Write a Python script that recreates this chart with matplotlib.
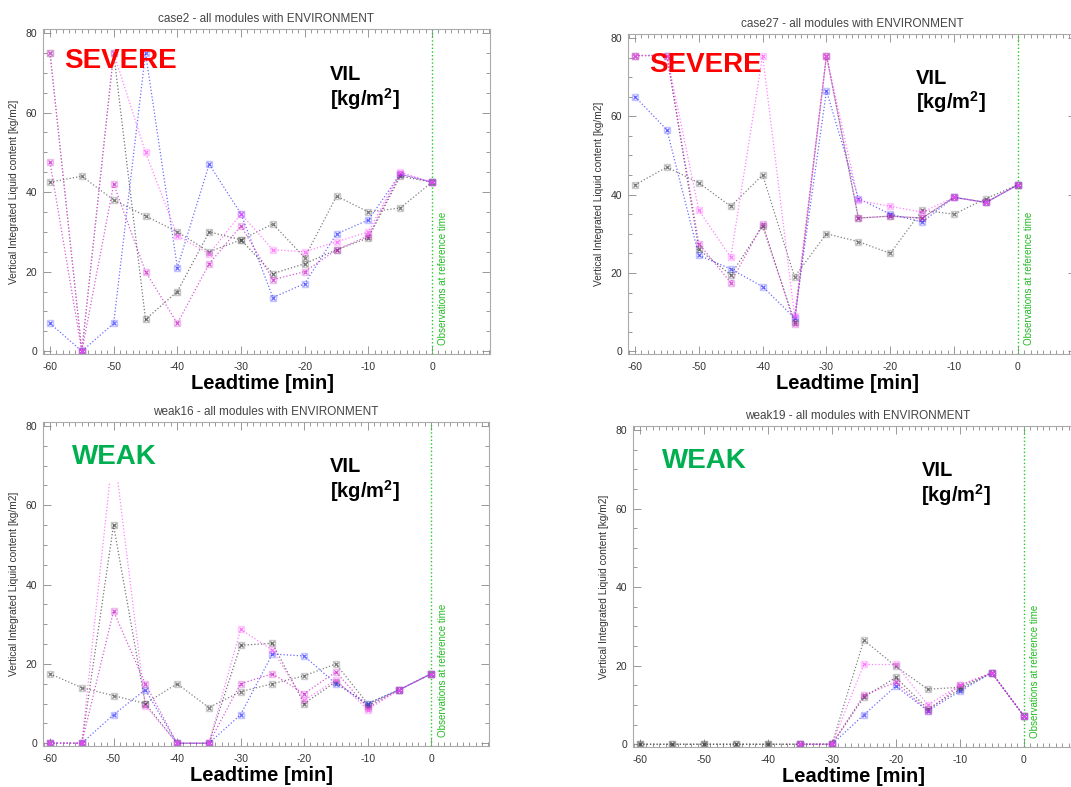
import matplotlib
matplotlib.use("Agg")
import matplotlib.pyplot as plt
import numpy as np
from matplotlib.ticker import MultipleLocator

plt.rcParams['font.family'] = ['Liberation Sans', 'DejaVu Sans']
plt.rcParams['axes.unicode_minus'] = False
plt.rcParams['mathtext.fontset'] = 'custom'
plt.rcParams['mathtext.rm'] = 'Liberation Sans'
plt.rcParams['mathtext.bf'] = 'Liberation Sans:bold'

nan = np.nan

# Data: leadtime in minutes, VIL values per module
leadtime = [-60, -55, -50, -45, -40, -35, -30, -25, -20, -15, -10, -5, 0]

case2_grayA = [42.5, 44, 38, 34, 30, 25, 28, 32, 23.5, 39, 35, 36, 42.5]
case2_grayB = [75, 0, 75, 8, 15, 30, 28, 19.5, 22, 25.5, 28.5, 44, 42.5]
case2_blue = [7, 0, 7, 75, 21, 47, 34.5, 13.5, 17, 29.5, 33, 44.5, 42.5]
case2_magenta = [47.5, 0, 42, 20, 7, 22, 31.5, 18, 20, 25.5, 29, 44.5, 42.5]
case2_pink = [75, 0, 75, 50, 29, 24.5, 34.5, 25.5, 25, 27.5, 30, 45, 42.5]

case27_grayA = [42.5, 47, 43, 37, 45, 19, 30, 28, 25, 36, 35, 39, 42.5]
case27_grayB = [75.5, 75.5, 26, 19.5, 32, 7.5, 75.5, 34, 34.5, 34, 39.3, 38, 42.5]
case27_blue = [65, 56.5, 24.5, 21, 16.5, 8.5, 66.5, 39, 35, 33, 39.3, 38, 42.5]
case27_magenta = [75.5, 75.5, 27.5, 17.5, 32.5, 7, 75.5, 34, 34.5, 34, 39.3, 38, 42.5]
case27_pink = [75.5, 75.5, 36, 24, 75.5, 9, 75.5, 38.5, 37, 35.5, 39.3, 38, 42.5]

weak16_grayA = [17.5, 14, 12, 10, 15, 9, 13, 15, 17, 20, 10, 13.5, 17.5]
weak16_grayB = [0, 0, 55, 10, 0, 0, 24.7, 25.2, 10, 15.5, 9.5, 13.5, 17.5]
weak16_blue = [0, 0, 7.2, 13.5, 0, 0, 7.2, 22.5, 22, 15, 10, 13.5, 17.5]
weak16_magenta = [0, 0, 33.3, 15, 0, 0, 15, 17.5, 12.5, 18, 9, 13.5, 17.5]
weak16_pink = [0, 0, 75, 9.5, 0, 0, 28.7, 23.5, 10.8, 16, 8.5, 13.5, 17.5]

weak19_grayA = [0, 0, 0, 0, 0, 0, 0, 26.5, 19.8, 14, 14.5, 18.2, 7.2]
weak19_grayB = [0, 0, 0, 0, 0, 0, 0, 12, 17, 9, 14, 18.2, 7.2]
weak19_blue = [nan, nan, nan, nan, nan, 0, 0, 7.5, 14.8, 8.5, 13.5, 18.2, 7.2]
weak19_magenta = [nan, nan, nan, nan, nan, 0, 0, 12.5, 15.8, 8.5, 15, 18.2, 7.2]
weak19_pink = [nan, nan, nan, nan, nan, 0, 0, 20.3, 20.3, 10, 15, 18.2, 7.2]

titles = ["case2 - all modules with ENVIRONMENT", "case27 - all modules with ENVIRONMENT",
          "weak16 - all modules with ENVIRONMENT", "weak19 - all modules with ENVIRONMENT"]
labels = ["SEVERE", "SEVERE", "WEAK", "WEAK"]

panels = [
    [case2_grayA, case2_grayB, case2_blue, case2_magenta, case2_pink],
    [case27_grayA, case27_grayB, case27_blue, case27_magenta, case27_pink],
    [weak16_grayA, weak16_grayB, weak16_blue, weak16_magenta, weak16_pink],
    [weak19_grayA, weak19_grayB, weak19_blue, weak19_magenta, weak19_pink],
]
series_colors = ['#555555', '#444444', '#3a3aff', '#cc22cc', '#ff55ff']

W, H = 1071, 787
# axes boxes in pixels: left, top, right, bottom
boxes = [(43, 29, 490, 354), (628, 34, 1076, 354), (43, 422, 489, 746), (633, 426, 1082, 747)]

fig = plt.figure(figsize=(W / 100, H / 100), dpi=100)
fig.patch.set_facecolor('white')

for i, (l, t, r, b) in enumerate(boxes):
    ax = fig.add_axes([l / W, 1 - b / H, (r - l) / W, (b - t) / H])
    ax.set_xlim(-61.1, 9.1)
    ax.set_ylim(-0.7, 81)

    for vals, c in zip(panels[i], series_colors):
        ax.plot(leadtime, vals, ls=':', lw=0.9, color=c, alpha=0.75,
                marker='x', ms=3.2, mew=0.9, zorder=3)
        ax.plot(leadtime, vals, ls='none', marker='s', ms=4.5, mfc='none', mec=c,
                mew=1.0, alpha=0.3, zorder=2)

    # reference time line
    ax.axvline(0, color='#22cc22', ls=':', lw=1)
    ax.text(1.0, 1.5, "Observations at reference time", rotation=90, color='#22bb22',
            fontsize=7, ha='left', va='bottom')

    for s in ax.spines.values():
        s.set_color('#aaaaaa')
        s.set_linewidth(0.8)
    ax.xaxis.set_major_locator(MultipleLocator(10))
    ax.xaxis.set_minor_locator(MultipleLocator(1))
    ax.yaxis.set_major_locator(MultipleLocator(20))
    ax.yaxis.set_minor_locator(MultipleLocator(5))
    ax.tick_params(which='both', direction='in', top=True, right=True,
                   color='#888888', labelsize=7.5, labelcolor='#333333', width=0.6)
    ax.tick_params(which='major', length=6)
    ax.tick_params(axis='x', which='major', pad=6)
    ax.tick_params(axis='y', which='major', pad=4)
    ax.tick_params(which='minor', length=3)

    ax.set_title(titles[i], fontsize=8.5, color='#444444', pad=5)
    ax.set_ylabel("Vertical Integrated Liquid content [kg/m2]", fontsize=7.3,
                  color='#333333', labelpad=5)

    if labels[i] == "SEVERE":
        ax.text(-57.8, 71.3, "SEVERE", color='#ff0000', fontsize=20, fontweight='bold',
                va='baseline', ha='left', zorder=5)
    else:
        box = dict(fc='white', ec='none', pad=8) if i == 2 else None
        ax.text(-56.5, 70.3, "WEAK", color='#00b050', fontsize=20, fontweight='bold',
                va='baseline', ha='left', zorder=5, bbox=box)

    ax.text(-16, 68.3, "VIL", fontsize=14.5, fontweight='bold', va='baseline', ha='left')
    ax.text(-16, 61.8, "[kg/m$^{\\mathbf{2}}$]", fontsize=14.5, fontweight='bold',
            va='baseline', ha='left')

    ax.text(0.49, -0.108, "Leadtime [min]", transform=ax.transAxes, fontsize=14.5,
            fontweight='bold', ha='center', va='baseline', clip_on=False)

fig.savefig("out.png", dpi=100, facecolor='white')
